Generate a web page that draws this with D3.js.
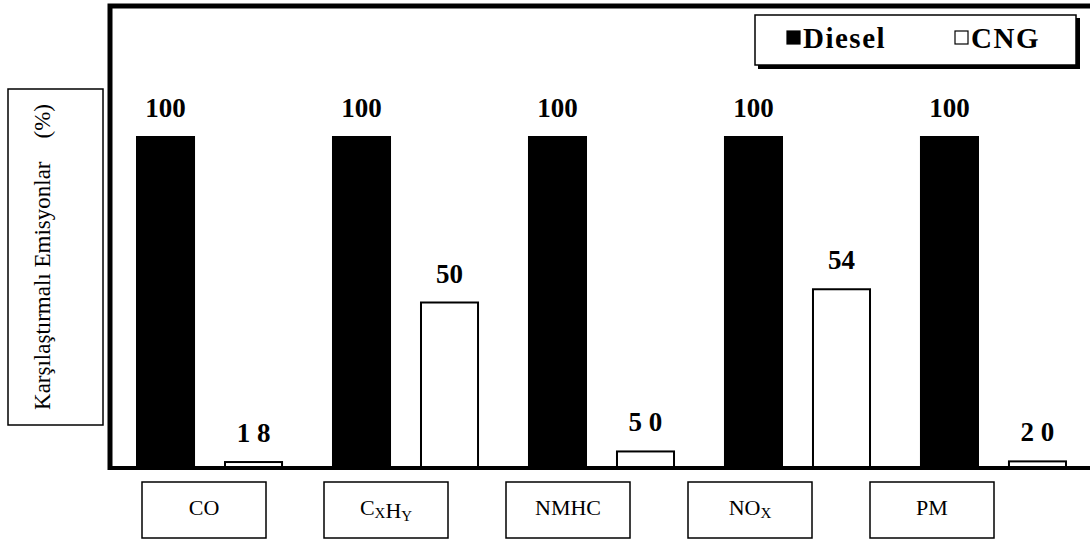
<!DOCTYPE html>
<html>
<head>
<meta charset="utf-8">
<script src="https://cdn.jsdelivr.net/npm/d3@7"></script>
<style>
  body { margin: 0; background: #fff; }
  svg text { font-family: "Liberation Serif", "Times New Roman", "DejaVu Serif", serif; }
</style>
</head>
<body>
<div id="chart"></div>
<script>
// categories and series
var categories = ["CO", "CxHy", "NMHC", "NOx", "PM"];
var series = ["Diesel", "CNG"];
var dieselValues = [100, 100, 100, 100, 100];
var cngValues = [1.8, 50, 5.0, 54, 2.0];
var dieselLabels = ["100", "100", "100", "100", "100"];
var cngLabels = ["1 8", "50", "5 0", "54", "2 0"];
// category label: main text + subscripts
var catLabelParts = [
    [["CO", false]],
    [["C", false], ["X", true], ["H", false], ["Y", true]],
    [["NMHC", false]],
    [["NO", false], ["X", true]],
    [["PM", false]]
];
var yLabel = "Karşılaştırmalı Emisyonlar    (%)";

function init() {
    var w = 1090;
    var h = 544;
    var baseY = 468;
    var serif = "'Liberation Serif', 'Times New Roman', serif";

    var svg = d3.select("#chart")
        .append("svg")
        .attr("width", w)
        .attr("height", h);

    // scales
    var x0 = d3.scaleBand()
        .domain(categories)
        .range([137, 1066])
        .paddingInner(0.26)
        .paddingOuter(0);

    var x1 = d3.scaleBand()
        .domain(series)
        .range([0, x0.bandwidth()])
        .paddingInner(0.352);

    var yScale = d3.scaleLinear()
        .domain([0, 100])
        .range([baseY, 137]);

    // label boxes sit slightly off the groups in the original
    var xLab = d3.scalePoint()
        .domain(categories)
        .range([204, 932]);

    var data = categories.map(function(c, i) {
        return {
            cat: c,
            vals: [
                { s: "Diesel", v: dieselValues[i], lab: dieselLabels[i] },
                { s: "CNG", v: cngValues[i], lab: cngLabels[i] }
            ]
        };
    });

    // frame (left + top)
    svg.append("path")
        .attr("d", "M110," + (baseY + 2) + " L110,6 L" + w + ",6")
        .attr("fill", "none")
        .attr("stroke", "#000")
        .attr("stroke-width", 5);

    var groups = svg.selectAll("g.grp")
        .data(data)
        .enter()
        .append("g")
        .attr("class", "grp")
        .attr("transform", function(d) { return "translate(" + x0(d.cat) + ",0)"; });

    groups.selectAll("rect")
        .data(function(d) { return d.vals; })
        .enter()
        .append("rect")
        .attr("x", function(d) { return x1(d.s); })
        .attr("y", function(d) { return yScale(d.v); })
        .attr("width", x1.bandwidth())
        .attr("height", function(d) { return baseY - yScale(d.v); })
        .attr("fill", function(d) { return d.s === "Diesel" ? "#000" : "#fff"; })
        .attr("stroke", "#000")
        .attr("stroke-width", 2);

    groups.selectAll("text.val")
        .data(function(d) { return d.vals; })
        .enter()
        .append("text")
        .attr("class", "val")
        .attr("x", function(d) { return x1(d.s) + x1.bandwidth() / 2; })
        .attr("y", function(d) { return yScale(d.v) - 20; })
        .attr("text-anchor", "middle")
        .attr("font-family", serif)
        .attr("font-size", 27)
        .attr("font-weight", "bold")
        .text(function(d) { return d.lab; });

    // bottom axis line
    svg.append("line")
        .attr("x1", 108)
        .attr("x2", w)
        .attr("y1", baseY)
        .attr("y2", baseY)
        .attr("stroke", "#000")
        .attr("stroke-width", 4);

    // category label boxes
    var boxW = 124, boxH = 56, boxY = 482;
    var cl = svg.selectAll("g.cat")
        .data(categories)
        .enter()
        .append("g")
        .attr("class", "cat")
        .attr("transform", function(d) { return "translate(" + xLab(d) + ",0)"; });

    cl.append("rect")
        .attr("x", -boxW / 2)
        .attr("y", boxY)
        .attr("width", boxW)
        .attr("height", boxH)
        .attr("fill", "#fff")
        .attr("stroke", "#000")
        .attr("stroke-width", 1.5);

    cl.append("text")
        .attr("x", 0)
        .attr("y", boxY + 33)
        .attr("text-anchor", "middle")
        .attr("font-family", serif)
        .attr("font-size", 22)
        .each(function(d, i) {
            var t = d3.select(this);
            catLabelParts[i].forEach(function(p) {
                t.append("tspan")
                    .attr("font-size", p[1] ? 15 : 22)
                    .attr("dy", p[1] ? 3 : 0)
                    .text(p[0]);
                if (p[1]) t.append("tspan").attr("dy", -3).text("");
            });
        });

    // y label box
    svg.append("rect")
        .attr("x", 8)
        .attr("y", 89)
        .attr("width", 95)
        .attr("height", 336)
        .attr("fill", "#fff")
        .attr("stroke", "#000")
        .attr("stroke-width", 1.5);

    svg.append("text")
        .attr("transform", "translate(50,257) rotate(-90)")
        .attr("text-anchor", "middle")
        .attr("font-family", serif)
        .attr("font-size", 23)
        .attr("xml:space", "preserve")
        .style("white-space", "pre")
        .text(yLabel);

    // legend
    var lg = svg.append("g");
    lg.append("rect")
        .attr("x", 758)
        .attr("y", 18)
        .attr("width", 322)
        .attr("height", 51)
        .attr("fill", "#000");
    lg.append("rect")
        .attr("x", 755)
        .attr("y", 15)
        .attr("width", 321)
        .attr("height", 50)
        .attr("fill", "#fff")
        .attr("stroke", "#000")
        .attr("stroke-width", 1.5);

    var legX = d3.scaleOrdinal().domain(series).range([787, 955]);
    var items = lg.selectAll("g.item")
        .data(series)
        .enter()
        .append("g")
        .attr("transform", function(d) { return "translate(" + legX(d) + ",0)"; });
    items.append("rect")
        .attr("x", 0)
        .attr("y", 31)
        .attr("width", 13)
        .attr("height", 13)
        .attr("fill", function(d) { return d === "Diesel" ? "#000" : "#fff"; })
        .attr("stroke", "#000")
        .attr("stroke-width", 1.2);
    items.append("text")
        .attr("x", 16)
        .attr("y", 48)
        .attr("font-family", serif)
        .attr("font-size", 29)
        .attr("font-weight", "bold")
        .attr("letter-spacing", 1.5)
        .text(function(d) { return d; });
}

window.onload = init;
</script>
</body>
</html>
